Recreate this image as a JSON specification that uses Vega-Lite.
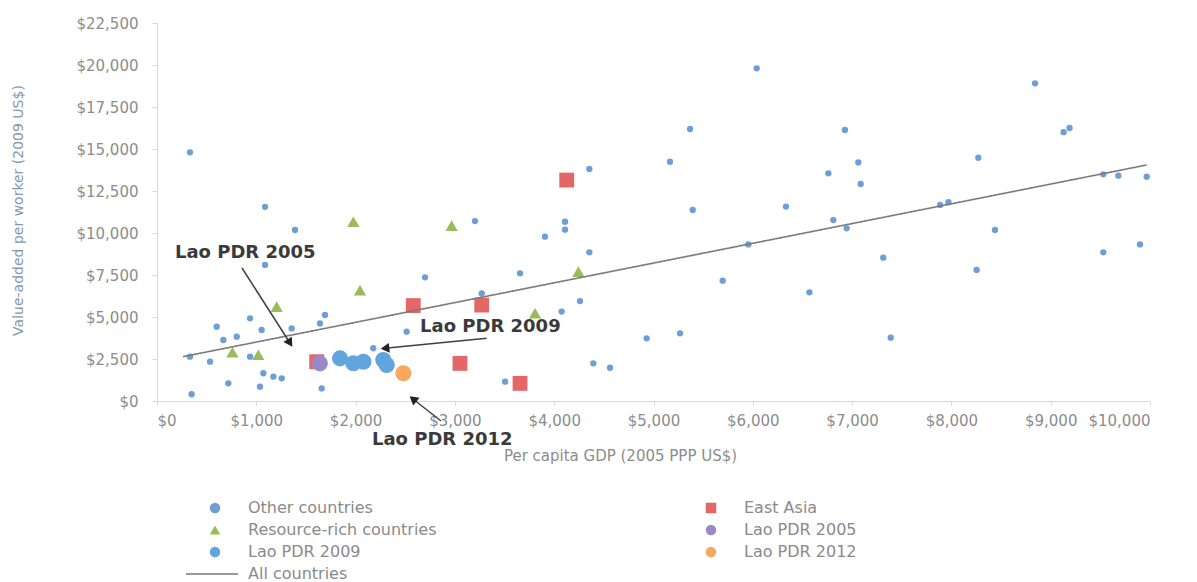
{
  "$schema": "https://vega.github.io/schema/vega-lite/v6.json",
  "width": 993,
  "height": 378,
  "autosize": {"type": "none"},
  "padding": {"left": 157, "top": 23, "right": 47, "bottom": 181},
  "background": "white",
  "config": {
    "view": {"stroke": null},
    "font": "DejaVu Sans",
    "axis": {"grid": false}
  },
  "datasets": {
    "points": [
      {"series": "Other countries", "gdp": 332, "va": 14800},
      {"series": "Other countries", "gdp": 1088, "va": 11560},
      {"series": "Other countries", "gdp": 1390, "va": 10180},
      {"series": "Other countries", "gdp": 3202, "va": 10710},
      {"series": "Other countries", "gdp": 4354, "va": 13810},
      {"series": "Other countries", "gdp": 4109, "va": 10670},
      {"series": "Other countries", "gdp": 4109, "va": 10200},
      {"series": "Other countries", "gdp": 3907, "va": 9780},
      {"series": "Other countries", "gdp": 4354, "va": 8850},
      {"series": "Other countries", "gdp": 3656, "va": 7600},
      {"series": "Other countries", "gdp": 2699, "va": 7360},
      {"series": "Other countries", "gdp": 1088, "va": 8100},
      {"series": "Other countries", "gdp": 3270, "va": 6400},
      {"series": "Other countries", "gdp": 4260, "va": 5950},
      {"series": "Other countries", "gdp": 4075, "va": 5320},
      {"series": "Other countries", "gdp": 4931, "va": 3730},
      {"series": "Other countries", "gdp": 4394, "va": 2240},
      {"series": "Other countries", "gdp": 4562, "va": 1980},
      {"series": "Other countries", "gdp": 3505, "va": 1150},
      {"series": "Other countries", "gdp": 332, "va": 2640},
      {"series": "Other countries", "gdp": 534, "va": 2340},
      {"series": "Other countries", "gdp": 601, "va": 4420},
      {"series": "Other countries", "gdp": 937, "va": 4920},
      {"series": "Other countries", "gdp": 668, "va": 3630},
      {"series": "Other countries", "gdp": 803, "va": 3830},
      {"series": "Other countries", "gdp": 1054, "va": 4230},
      {"series": "Other countries", "gdp": 1356, "va": 4320},
      {"series": "Other countries", "gdp": 1641, "va": 4620},
      {"series": "Other countries", "gdp": 1692, "va": 5120},
      {"series": "Other countries", "gdp": 1071, "va": 1650},
      {"series": "Other countries", "gdp": 1172, "va": 1450},
      {"series": "Other countries", "gdp": 1256, "va": 1350},
      {"series": "Other countries", "gdp": 718, "va": 1050},
      {"series": "Other countries", "gdp": 1037, "va": 850},
      {"series": "Other countries", "gdp": 349, "va": 400},
      {"series": "Other countries", "gdp": 1658, "va": 750},
      {"series": "Other countries", "gdp": 2514, "va": 4125},
      {"series": "Other countries", "gdp": 2178, "va": 3140},
      {"series": "Other countries", "gdp": 937, "va": 2640},
      {"series": "Other countries", "gdp": 6039, "va": 19800},
      {"series": "Other countries", "gdp": 5368, "va": 16190},
      {"series": "Other countries", "gdp": 5166, "va": 14240},
      {"series": "Other countries", "gdp": 5395, "va": 11370},
      {"series": "Other countries", "gdp": 6928, "va": 16130},
      {"series": "Other countries", "gdp": 7063, "va": 14200},
      {"series": "Other countries", "gdp": 6761, "va": 13550},
      {"series": "Other countries", "gdp": 7086, "va": 12920},
      {"series": "Other countries", "gdp": 6334, "va": 11570},
      {"series": "Other countries", "gdp": 6811, "va": 10770},
      {"series": "Other countries", "gdp": 6945, "va": 10280},
      {"series": "Other countries", "gdp": 5955, "va": 9320},
      {"series": "Other countries", "gdp": 5697, "va": 7160},
      {"series": "Other countries", "gdp": 6570, "va": 6470},
      {"series": "Other countries", "gdp": 7314, "va": 8530},
      {"series": "Other countries", "gdp": 7389, "va": 3770},
      {"series": "Other countries", "gdp": 5267, "va": 4030},
      {"series": "Other countries", "gdp": 8842, "va": 18910},
      {"series": "Other countries", "gdp": 9130, "va": 16000},
      {"series": "Other countries", "gdp": 9190, "va": 16250},
      {"series": "Other countries", "gdp": 8271, "va": 14480},
      {"series": "Other countries", "gdp": 7886, "va": 11670},
      {"series": "Other countries", "gdp": 7970, "va": 11830},
      {"series": "Other countries", "gdp": 8439, "va": 10180},
      {"series": "Other countries", "gdp": 9530, "va": 13490},
      {"series": "Other countries", "gdp": 9681, "va": 13410},
      {"series": "Other countries", "gdp": 9967, "va": 13350},
      {"series": "Other countries", "gdp": 9530, "va": 8850},
      {"series": "Other countries", "gdp": 9899, "va": 9320},
      {"series": "Other countries", "gdp": 8254, "va": 7800},
      {"series": "Resource-rich countries", "gdp": 1977, "va": 10670},
      {"series": "Resource-rich countries", "gdp": 2967, "va": 10440},
      {"series": "Resource-rich countries", "gdp": 4243, "va": 7700},
      {"series": "Resource-rich countries", "gdp": 2044, "va": 6600},
      {"series": "Resource-rich countries", "gdp": 1205, "va": 5620},
      {"series": "Resource-rich countries", "gdp": 3807, "va": 5220},
      {"series": "Resource-rich countries", "gdp": 760, "va": 2900},
      {"series": "Resource-rich countries", "gdp": 1020, "va": 2750},
      {"series": "Resource-rich countries", "gdp": 3051, "va": 2300},
      {"series": "East Asia", "gdp": 4126, "va": 13150},
      {"series": "East Asia", "gdp": 2581, "va": 5680},
      {"series": "East Asia", "gdp": 3270, "va": 5710},
      {"series": "East Asia", "gdp": 3656, "va": 1050},
      {"series": "East Asia", "gdp": 3051, "va": 2240},
      {"series": "East Asia", "gdp": 1608, "va": 2340},
      {"series": "Lao PDR 2005", "gdp": 1640, "va": 2240},
      {"series": "Lao PDR 2009", "gdp": 1843, "va": 2540},
      {"series": "Lao PDR 2009", "gdp": 1977, "va": 2244},
      {"series": "Lao PDR 2009", "gdp": 2078, "va": 2340},
      {"series": "Lao PDR 2009", "gdp": 2279, "va": 2440},
      {"series": "Lao PDR 2009", "gdp": 2313, "va": 2143},
      {"series": "Lao PDR 2012", "gdp": 2481, "va": 1650}
    ],
    "trend": [
      {"fit": "All countries", "gdp": 262, "va": 2640},
      {"fit": "All countries", "gdp": 9967, "va": 14050}
    ],
    "labels": [
      {"label": "Lao PDR 2005", "gdp": 181, "va": 8810},
      {"label": "Lao PDR 2009", "gdp": 2649, "va": 4405},
      {"label": "Lao PDR 2012", "gdp": 2165, "va": -2321}
    ],
    "arrows": [
      {"label": "Lao PDR 2005", "gdp": 856, "va": 7917, "gdp2": 1339, "va2": 3452},
      {"label": "Lao PDR 2009", "gdp": 3320, "va": 3730, "gdp2": 2296, "va2": 3135},
      {"label": "Lao PDR 2012", "gdp": 2860, "va": -1190, "gdp2": 2578, "va2": 120}
    ]
  },
  "layer": [
    {
      "data": {"name": "points"},
      "transform": [{"filter": "datum.series === 'Other countries'"}],
      "mark": {"type": "point", "filled": true, "opacity": 1, "strokeWidth": 0, "size": 40},
      "encoding": {
        "x": {
          "field": "gdp", "type": "quantitative",
          "scale": {"domain": [0, 10000], "nice": false, "zero": false},
          "axis": {
            "title": "Per capita GDP (2005 PPP US$)",
            "values": [0, 1000, 2000, 3000, 4000, 5000, 6000, 7000, 8000, 9000, 10000],
            "format": "$,.0f",
            "labelFont": "DejaVu Sans", "labelFontSize": 15, "labelColor": "#8c8c8c",
            "domainColor": "#d9d9d9", "tickColor": "#d9d9d9", "tickSize": 4, "labelPadding": 8,
            "titleFont": "DejaVu Sans", "titleFontSize": 15, "titleColor": "#8c8c8c", "titleFontWeight": "normal",
            "titleX": 463, "titleY": 54, "titleBaseline": "middle", "titleAlign": "center"
          }
        },
        "y": {
          "field": "va", "type": "quantitative",
          "scale": {"domain": [0, 22500], "nice": false, "zero": false},
          "axis": {
            "title": "Value-added per worker (2009 US$)",
            "values": [0, 2500, 5000, 7500, 10000, 12500, 15000, 17500, 20000, 22500],
            "format": "$,.0f",
            "labelFont": "DejaVu Sans", "labelFontSize": 15, "labelColor": "#8c8c8c",
            "domainColor": "#d9d9d9", "tickColor": "#d9d9d9", "tickSize": 5, "labelPadding": 14,
            "titleFont": "DejaVu Sans", "titleFontSize": 14, "titleColor": "#8497b0", "titleFontWeight": "normal",
            "titleX": -139, "titleY": 187, "titleBaseline": "middle", "titleAlign": "center", "titleAngle": -90
          }
        },
        "color": {
          "field": "series", "type": "nominal",
          "scale": {
            "domain": ["Other countries", "Resource-rich countries", "Lao PDR 2009", "East Asia", "Lao PDR 2005", "Lao PDR 2012"],
            "range": ["#6d9fd6", "#9bbb59", "#62a4dd", "#e46666", "#9a88c9", "#f8a85e"]
          },
          "legend": {
            "title": null,
            "orient": "none", "legendX": 50, "legendY": 477,
            "columns": 2, "columnPadding": 266, "rowPadding": 6, "padding": 0,
            "symbolSize": 110,
            "labelFont": "DejaVu Sans", "labelFontSize": 16, "labelColor": "#8a8a8a",
            "labelOffset": 25, "labelLimit": 400,
            "encode": {"symbols": {"update": {"size": {"signal": "datum.value === 'Other countries' ? 36 : 110"}}}}
          }
        },
        "shape": {
          "field": "series", "type": "nominal",
          "scale": {
            "domain": ["Other countries", "Resource-rich countries", "Lao PDR 2009", "East Asia", "Lao PDR 2005", "Lao PDR 2012"],
            "range": ["circle", "triangle-up", "circle", "square", "circle", "circle"]
          }
        }
      }
    },
    {
      "data": {"name": "points"},
      "transform": [{"filter": "datum.series === 'Resource-rich countries'"}],
      "mark": {"type": "point", "filled": true, "opacity": 1, "strokeWidth": 0, "size": 150},
      "encoding": {
        "x": {"field": "gdp", "type": "quantitative"},
        "y": {"field": "va", "type": "quantitative"},
        "color": {"field": "series", "type": "nominal"},
        "shape": {"field": "series", "type": "nominal"}
      }
    },
    {
      "data": {"name": "points"},
      "transform": [{"filter": "datum.series === 'East Asia'"}],
      "mark": {"type": "point", "filled": true, "opacity": 1, "strokeWidth": 0, "size": 220},
      "encoding": {
        "x": {"field": "gdp", "type": "quantitative"},
        "y": {"field": "va", "type": "quantitative"},
        "color": {"field": "series", "type": "nominal"},
        "shape": {"field": "series", "type": "nominal"}
      }
    },
    {
      "data": {"name": "points"},
      "transform": [{"filter": "indexof(datum.series, 'Lao PDR') === 0"}],
      "mark": {"type": "point", "filled": true, "opacity": 1, "strokeWidth": 0, "size": 260},
      "encoding": {
        "x": {"field": "gdp", "type": "quantitative"},
        "y": {"field": "va", "type": "quantitative"},
        "color": {"field": "series", "type": "nominal"},
        "shape": {"field": "series", "type": "nominal"}
      }
    },
    {
      "data": {"name": "trend"},
      "mark": {"type": "line", "color": "#7a7a7a", "strokeWidth": 1.6},
      "encoding": {
        "x": {"field": "gdp", "type": "quantitative"},
        "y": {"field": "va", "type": "quantitative"},
        "strokeDash": {
          "field": "fit", "type": "nominal",
          "scale": {"range": [[1, 0]]},
          "legend": {
            "title": null, "orient": "none", "legendX": 28, "legendY": 524, "padding": 0,
            "symbolType": "stroke", "symbolSize": 2700, "symbolStrokeColor": "#7a7a7a", "symbolStrokeWidth": 1.5,
            "labelFont": "DejaVu Sans", "labelFontSize": 16, "labelColor": "#8a8a8a", "labelOffset": 9
          }
        }
      }
    },
    {
      "data": {"name": "arrows"},
      "mark": {"type": "rule", "color": "#404040", "strokeWidth": 1.5},
      "encoding": {
        "x": {"field": "gdp", "type": "quantitative"},
        "y": {"field": "va", "type": "quantitative"},
        "x2": {"field": "gdp2"},
        "y2": {"field": "va2"}
      }
    },
    {
      "data": {"name": "arrows"},
      "transform": [{"filter": "datum.label === 'Lao PDR 2005'"}],
      "mark": {"type": "point", "shape": "triangle-up", "filled": true, "opacity": 1, "size": 100, "color": "#222222", "angle": 147},
      "encoding": {
        "x": {"field": "gdp2", "type": "quantitative"},
        "y": {"field": "va2", "type": "quantitative"}
      }
    },
    {
      "data": {"name": "arrows"},
      "transform": [{"filter": "datum.label === 'Lao PDR 2009'"}],
      "mark": {"type": "point", "shape": "triangle-up", "filled": true, "opacity": 1, "size": 100, "color": "#222222", "angle": 264},
      "encoding": {
        "x": {"field": "gdp2", "type": "quantitative"},
        "y": {"field": "va2", "type": "quantitative"}
      }
    },
    {
      "data": {"name": "arrows"},
      "transform": [{"filter": "datum.label === 'Lao PDR 2012'"}],
      "mark": {"type": "point", "shape": "triangle-up", "filled": true, "opacity": 1, "size": 100, "color": "#222222", "angle": 309},
      "encoding": {
        "x": {"field": "gdp2", "type": "quantitative"},
        "y": {"field": "va2", "type": "quantitative"}
      }
    },
    {
      "data": {"name": "labels"},
      "mark": {"type": "text", "align": "left", "baseline": "middle", "font": "DejaVu Sans", "fontWeight": "bold", "fontSize": 18, "color": "#3a3a3a"},
      "encoding": {
        "x": {"field": "gdp", "type": "quantitative"},
        "y": {"field": "va", "type": "quantitative"},
        "text": {"field": "label"}
      }
    }
  ]
}
